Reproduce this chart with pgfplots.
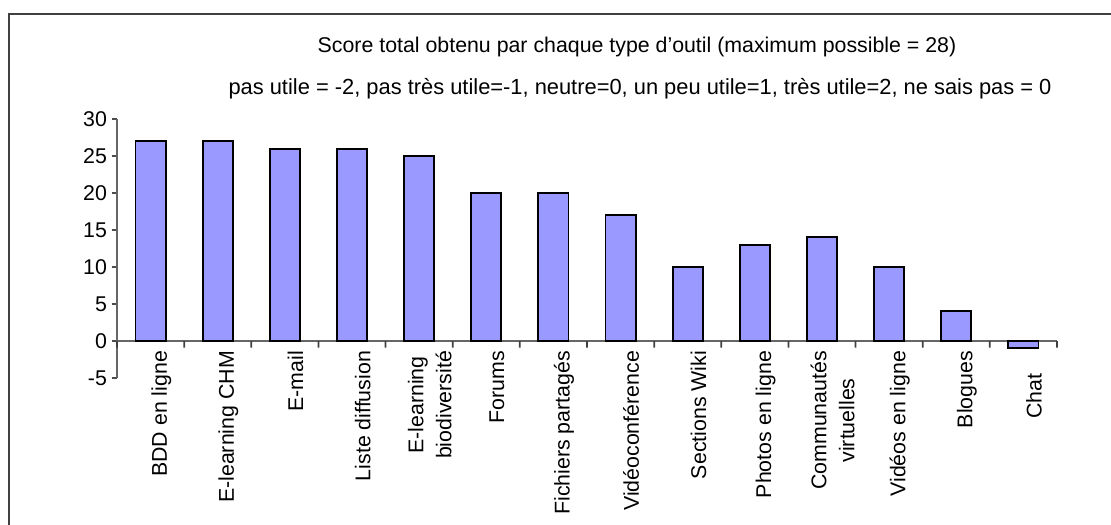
\documentclass[border=0pt]{standalone}
\usepackage{pgfplots}
\pgfplotsset{compat=1.18}
\usepackage{fontspec}
\setmainfont{Liberation Sans}
\definecolor{barblue}{HTML}{9999FF}
\definecolor{axgray}{HTML}{666666}

\begin{document}
\begin{tikzpicture}
\useasboundingbox (0,0) rectangle (833.25pt,393.75pt);
% cadre du graphique (coins gauche / haut seulement visibles)
\draw[line width=1.5pt,color=black!75] (6.75pt,-2pt) -- (6.75pt,383.25pt) -- (836pt,383.25pt);
\node[font=\fontsize{16}{19}\selectfont] at (477.75pt,358.5pt)
  {Score total obtenu par chaque type d'outil (maximum possible = 28)};
\node[font=\fontsize{16.4}{19}\selectfont] at (480pt,327pt)
  {pas utile = -2, pas très utile=-1, neutre=0, un peu utile=1, très utile=2, ne sais pas = 0};

\begin{axis}[at={(87.75pt,110.25pt)}, anchor=south west,
  scale only axis, width=705pt, height=194.25pt,
  xmin=-0.5, xmax=13.5, ymin=-5, ymax=30,
  axis y line=left, axis x line=middle,
  axis line style={-, color=axgray, line width=0.9pt},
  hide obscured x ticks=false, hide obscured y ticks=false,
  ytick={-5,0,...,30},
  xtick={0,...,13},
  xticklabels={BDD en ligne, E-learning CHM, E-mail, Liste diffusion,
    {E-learning\\biodiversité}, Forums, Fichiers partagés, Vidéoconférence,
    Sections Wiki, Photos en ligne, {Communautés\\virtuelles}, Vidéos en ligne,
    Blogues, Chat\hspace*{17pt}},
  tick align=outside, major tick length=4pt,
  tick style={color=black!70, line width=0.8pt},
  xtick style={draw=none},
  x tick label style={rotate=90, anchor=east, align=center, yshift=-8pt,
      font=\fontsize{16}{21}\selectfont},
  y tick label style={font=\fontsize{16}{19}\selectfont},
  /pgf/number format/assume math mode=true,
  clip=false,
]
\addplot[ybar, bar width=0.45, fill=barblue, draw=black, line width=1.4pt] coordinates {
(0,27)(1,27)(2,26)(3,26)(4,25)(5,20)(6,20)(7,17)(8,10)(9,13)(10,14)(11,10)(12,4)(13,-1)};
% graduations entre les categories
\addplot[ybar, bar width=1.3pt, bar shift=0pt, fill=black!75, draw=none, forget plot] coordinates {
(-0.5,-0.9)(0.5,-0.9)(1.5,-0.9)(2.5,-0.9)(3.5,-0.9)(4.5,-0.9)(5.5,-0.9)(6.5,-0.9)
(7.5,-0.9)(8.5,-0.9)(9.5,-0.9)(10.5,-0.9)(11.5,-0.9)(12.5,-0.9)(13.5,-0.9)};
\end{axis}
\end{tikzpicture}
\end{document}
